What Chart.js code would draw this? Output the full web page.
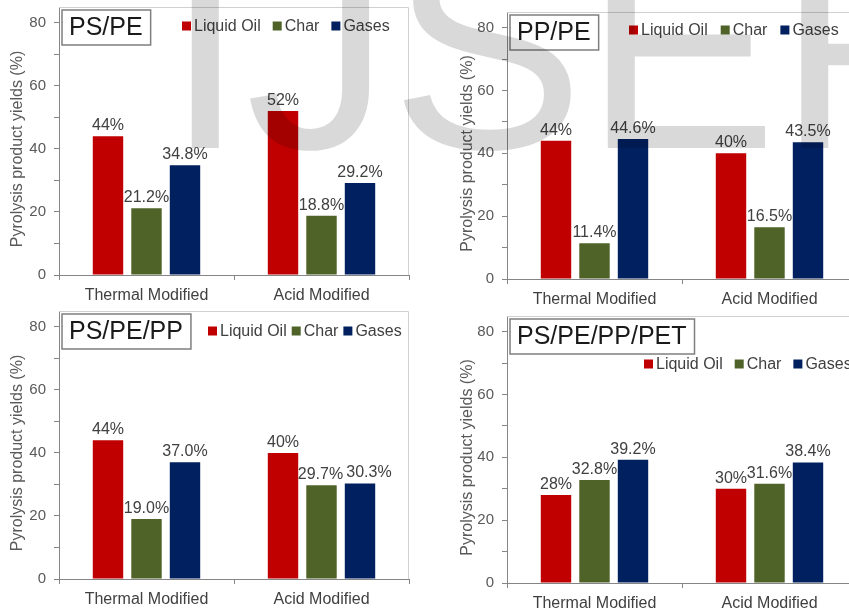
<!DOCTYPE html>
<html>
<head>
<meta charset="utf-8">
<script src="https://cdn.jsdelivr.net/npm/chart.js@4"></script>
<style>
html, body { margin:0; padding:0; background:#fff; width:849px; height:612px; overflow:hidden; position:relative; }
.panel { position:absolute; width:425px; height:306px; }
#mark { position:absolute; left:165px; top:-98px; font-family:"Liberation Sans", Arial, sans-serif; font-size:290px; line-height:1; color:rgba(0,0,0,0.15); white-space:nowrap; pointer-events:none; }
</style>
</head>
<body>
<div class="panel" style="left:0;top:0"><canvas id="c0" width="425" height="306"></canvas></div>
<div class="panel" style="left:448px;top:0"><canvas id="c1" width="425" height="306"></canvas></div>
<div class="panel" style="left:0;top:306px"><canvas id="c2" width="425" height="306"></canvas></div>
<div class="panel" style="left:448px;top:306px"><canvas id="c3" width="425" height="306"></canvas></div>
<div id="mark">IJSER</div>
<script>
const categories = ['Thermal Modified', 'Acid Modified'];
const seriesNames = ['Liquid Oil', 'Char', 'Gases'];
const seriesColors = ['#c00000', '#4f6228', '#002060'];
const labelDecimals = [0, 1, 1];
const panelTitles = ['PS/PE', 'PP/PE', 'PS/PE/PP', 'PS/PE/PP/PET'];

// yields (%) per panel: [Thermal Modified, Acid Modified]
const psPeOil = [44, 52];
const psPeChar = [21.2, 18.8];
const psPeGases = [34.8, 29.2];

const ppPeOil = [44, 40];
const ppPeChar = [11.4, 16.5];
const ppPeGases = [44.6, 43.5];

const psPePpOil = [44, 40];
const psPePpChar = [19.0, 29.7];
const psPePpGases = [37.0, 30.3];

const psPePpPetOil = [28, 30];
const psPePpPetChar = [32.8, 31.6];
const psPePpPetGases = [39.2, 38.4];

const yTitle = 'Pyrolysis product yields (%)';
const yMax = 85;

const panelData = [
  [psPeOil, psPeChar, psPeGases],
  [ppPeOil, ppPeChar, ppPeGases],
  [psPePpOil, psPePpChar, psPePpGases],
  [psPePpPetOil, psPePpPetChar, psPePpPetGases]
];

// layout tweaks per panel
const topPad = [7, 12, 5, 10];
const xAxisHeight = [31, 27, 33, 29];
const yTitleX = [18, 20, 18, 20];
const legendPos = [
  {x: 123, y: 19, gap: 12},
  {x: 122, y: 18, gap: 13},
  {x: 149, y: 20, gap: 5},
  {x: 137, y: 48, gap: 12}
];
// label nudges so neighbouring labels don't collide (panel, dataset, index -> dx)
const labelNudge = {'2-2-1': 9, '2-1-1': -1};

const FONT = '"Liberation Sans", Arial, sans-serif';
Chart.defaults.font.family = FONT;

const panelDeco = {
  id: 'panelDeco',
  afterDatasetsDraw(chart, args, opts) {
    const ctx = chart.ctx;
    const a = chart.chartArea;
    ctx.save();
    // light frame on top / right
    ctx.strokeStyle = '#d0d0d0';
    ctx.lineWidth = 1;
    ctx.beginPath();
    ctx.moveTo(a.left, a.top + 0.5);
    ctx.lineTo(a.right - 0.5, a.top + 0.5);
    ctx.lineTo(a.right - 0.5, a.bottom);
    ctx.stroke();

    // y axis title
    ctx.save();
    ctx.translate(opts.yTitleX, (a.top + a.bottom) / 2 + 8);
    ctx.rotate(-Math.PI / 2);
    ctx.font = '16px ' + FONT;
    ctx.fillStyle = '#595959';
    ctx.textAlign = 'center';
    ctx.textBaseline = 'middle';
    ctx.fillText(yTitle, 0, 0);
    ctx.restore();

    // value labels
    ctx.font = '16px ' + FONT;
    ctx.fillStyle = '#404040';
    ctx.textAlign = 'center';
    ctx.textBaseline = 'alphabetic';
    chart.data.datasets.forEach((ds, i) => {
      chart.getDatasetMeta(i).data.forEach((bar, j) => {
        const dx = labelNudge[opts.panel + '-' + i + '-' + j] || 0;
        ctx.fillText(ds.data[j].toFixed(labelDecimals[i]) + '%', bar.x + dx, bar.y - 6);
      });
    });

    // title box
    ctx.font = '25px ' + FONT;
    const tw = ctx.measureText(opts.title).width;
    const bx = a.left + 3, by = a.top + 3, bw = tw + 15, bh = 35;
    ctx.fillStyle = '#fff';
    ctx.fillRect(bx, by, bw, bh);
    ctx.strokeStyle = '#7f7f7f';
    ctx.lineWidth = 1.5;
    ctx.strokeRect(bx, by, bw, bh);
    ctx.fillStyle = '#1a1a1a';
    ctx.textAlign = 'left';
    ctx.textBaseline = 'middle';
    ctx.fillText(opts.title, bx + 7, by + bh / 2 + 1);

    // legend
    ctx.font = '16px ' + FONT;
    let x = a.left + opts.legendX;
    const y = a.top + opts.legendY;
    chart.data.datasets.forEach(ds => {
      ctx.fillStyle = ds.backgroundColor;
      ctx.fillRect(x, y - 4.5, 9, 9);
      x += 12;
      ctx.fillStyle = '#404040';
      ctx.fillText(ds.label, x, y + 1);
      x += ctx.measureText(ds.label).width + opts.legendGap;
    });
    ctx.restore();
  }
};

panelData.forEach((series, p) => {
  new Chart(document.getElementById('c' + p), {
    type: 'bar',
    data: {
      labels: categories,
      datasets: series.map((vals, i) => ({
        label: seriesNames[i],
        data: vals,
        backgroundColor: seriesColors[i],
        categoryPercentage: 0.66,
        barPercentage: 0.79
      }))
    },
    options: {
      responsive: false,
      animation: false,
      devicePixelRatio: 1,
      layout: {padding: {left: 0, right: 16, top: topPad[p], bottom: 0}},
      plugins: {
        legend: {display: false},
        tooltip: {enabled: false},
        panelDeco: {
          panel: p,
          title: panelTitles[p],
          yTitleX: yTitleX[p],
          legendX: legendPos[p].x,
          legendY: legendPos[p].y,
          legendGap: legendPos[p].gap
        }
      },
      scales: {
        x: {
          grid: {drawOnChartArea: false, drawTicks: true, tickLength: 5, color: '#868686', offset: true},
          border: {color: '#868686'},
          ticks: {font: {size: 16}, color: '#404040', padding: 6, maxRotation: 0},
          afterFit(scale) {
            scale.height = xAxisHeight[p];
            scale.paddingLeft = 0;
            scale.paddingRight = 0;
          }
        },
        y: {
          min: 0,
          max: yMax,
          grid: {drawOnChartArea: false, drawTicks: true, tickLength: 5, color: '#868686'},
          border: {color: '#868686'},
          ticks: {
            stepSize: 5,
            font: {size: 15},
            color: '#595959',
            padding: 8,
            callback: v => (v % 20 === 0 ? v : '')
          },
          title: {display: false},
          afterFit(scale) {
            scale.width = 59;
            scale.paddingTop = 0;
            scale.paddingBottom = 0;
          }
        }
      }
    },
    plugins: [panelDeco]
  });
});
</script>
</body>
</html>
